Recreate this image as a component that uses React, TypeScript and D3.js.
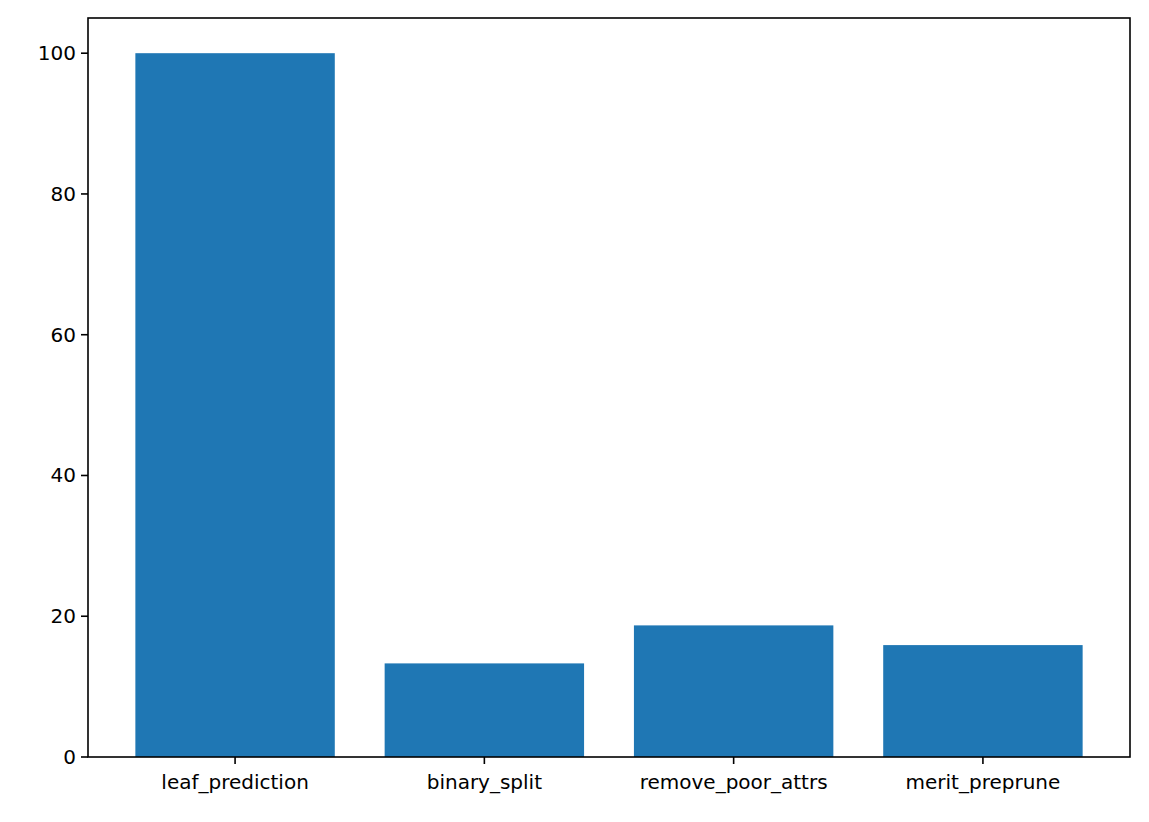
import * as d3 from 'd3'

const categories = ['leaf_prediction', 'binary_split', 'remove_poor_attrs', 'merit_preprune']
const values = [100, 13.3, 18.7, 15.9]
const yTicks = [0, 20, 40, 60, 80, 100]

const W = 1149
const H = 822
const M = { left: 88, right: 1130, top: 18, bottom: 757 }

export default function App() {
  const x = d3.scaleLinear().domain([-0.59, categories.length - 1 + 0.59]).range([M.left, M.right])
  const y = d3.scaleLinear().domain([0, 105]).range([M.bottom, M.top])
  const bw = x(0.8) - x(0)
  const font = 'DejaVu Sans, sans-serif'

  return (
    <svg width={W} height={H} style={{ position: 'absolute', left: 0, top: 0, background: '#fff' }}>
      {values.map((v, i) => (
        <rect key={i} x={x(i) - bw / 2} y={y(v)} width={bw} height={y(0) - y(v)} fill="#1f77b4" />
      ))}
      <rect x={M.left} y={M.top} width={M.right - M.left} height={M.bottom - M.top} fill="none" stroke="#000" strokeWidth={1.6} />
      {yTicks.map((t) => (
        <g key={t} transform={`translate(${M.left},${y(t)})`}>
          <line x1={-7} x2={0} stroke="#000" strokeWidth={1.6} />
          <text x={-12} dy="0.35em" textAnchor="end" fontSize={20} fontFamily={font}>{t}</text>
        </g>
      ))}
      {categories.map((c, i) => (
        <g key={c} transform={`translate(${x(i)},${M.bottom})`}>
          <line y2={7} stroke="#000" strokeWidth={1.6} />
          <text y={32} textAnchor="middle" fontSize={20} fontFamily={font}>{c}</text>
        </g>
      ))}
    </svg>
  )
}
